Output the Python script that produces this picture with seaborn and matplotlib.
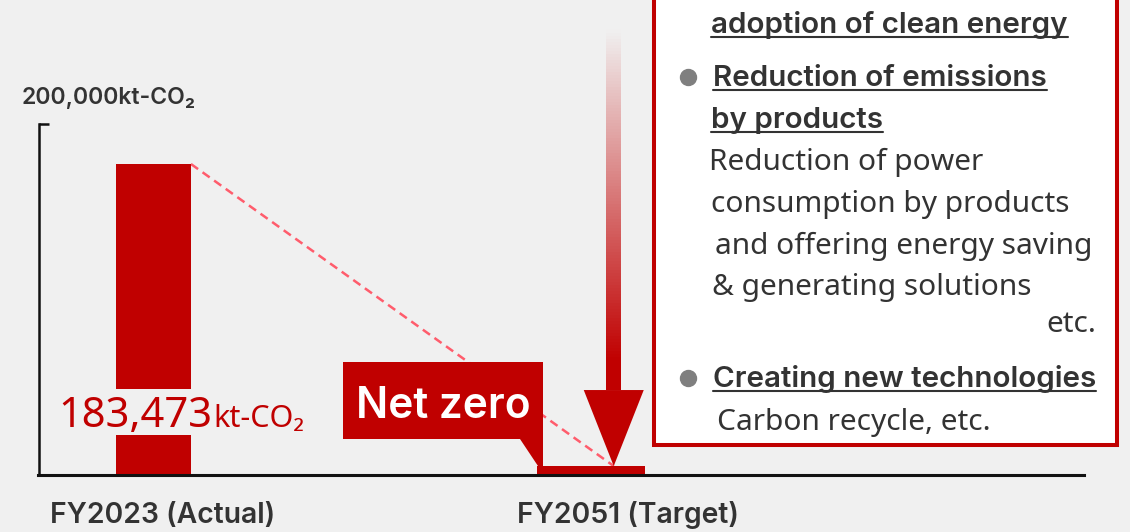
import matplotlib
matplotlib.use("Agg")
import matplotlib.pyplot as plt
import seaborn as sns
from matplotlib.patches import Polygon, Rectangle
from matplotlib.lines import Line2D
from matplotlib.transforms import IdentityTransform

# chart values
categories = ["FY2023 (Actual)", "FY2051 (Target)"]
emissions = [183473, 5000]  # FY2051 target is net zero, shown as a thin sliver
axis_label = "200,000kt-CO₂"
unit = "kt-CO₂"
target_label = "Net zero"
box_lines = [
    "adoption of clean energy",
    "Reduction of emissions",
    "by products",
    "Reduction of power",
    "consumption by products",
    "and offering energy saving",
    "& generating solutions",
    "etc.",
    "Creating new technologies",
    "Carbon recycle, etc.",
]

RED = "#c00000"
BG = "#f0f0f0"
INK = "#333333"
W, H = 1130, 532
ID = IdentityTransform()
REG = ["Noto Sans", "DejaVu Sans"]
BOLD = ["Inter", "DejaVu Sans"]


def pt(x, y):
    # pixel position measured from the top-left corner -> display coords
    return x, H - y


sns.set_theme(style="white")
plt.rcParams["font.family"] = REG

fig = plt.figure(figsize=(W / 100, H / 100), dpi=100, facecolor=BG)
ax = fig.add_axes([38.5 / W, (H - 474.5) / H, (1084 - 38.5) / W, (474.5 - 124) / H])
ax.set_facecolor("none")

sns.barplot(x=categories, y=emissions, color=RED, saturation=1, linewidth=0, ax=ax)
bar_widths = [0.171, 0.247]
for i, (patch, w) in enumerate(zip(ax.patches, bar_widths)):
    patch.set_width(w)
    patch.set_x(i - w / 2)

ymax = 207110
ax.set_xlim(-0.263, 2.127)
ax.set_ylim(0, ymax)
ax.set_xticks([])
ax.set_yticks([ymax])
ax.set_yticklabels([""])
ax.tick_params(axis="y", direction="in", length=7, width=1.8, color="#111111", left=True)
ax.set_xlabel("")
ax.set_ylabel("")
sns.despine(ax=ax)
ax.spines["left"].set_linewidth(1.8)
ax.spines["bottom"].set_linewidth(2.2)
for s in ("left", "bottom"):
    ax.spines[s].set_color("#111111")

# dashed trend line from the actual bar to the target
arrow_x = 1.052
ax.plot([bar_widths[0] / 2, arrow_x], [emissions[0], emissions[1]],
        ls=(0, (3.5, 2.2)), color="#ff5c6c", lw=1.8, zorder=0.5)

# red arrow pointing at the target
tx, ty = ax.transData.transform((arrow_x, emissions[1]))
head_h, head_hw, shaft_hw = 76, 30, 7.5
top = H - 30
fade_end = H - 360
n = 120
step = (top - (ty + head_h)) / n
bg_rgb = matplotlib.colors.to_rgb(BG)
red_rgb = matplotlib.colors.to_rgb(RED)
for k in range(n):
    y0 = ty + head_h + k * step
    f = min(max((top - (y0 + step / 2)) / (top - fade_end), 0), 1)
    c = [b * (1 - f) + r * f for b, r in zip(bg_rgb, red_rgb)]
    fig.add_artist(Rectangle((tx - shaft_hw, y0), 2 * shaft_hw, step + 0.6, fc=c, ec="none",
                             transform=ID, zorder=1))
fig.add_artist(Polygon([(tx - head_hw, ty + head_h), (tx + head_hw, ty + head_h), (tx, ty)],
                       closed=True, fc=RED, ec="none", transform=ID, zorder=1.1))

# "Net zero" callout
callout = [pt(343, 362), pt(543, 362), pt(543, 466), pt(538, 466), pt(520, 439), pt(343, 439)]
fig.add_artist(Polygon(callout, closed=True, fc=RED, ec="none", transform=ID, zorder=1.2))
fig.text(*pt(443, 418), target_label, color="white", fontsize=30.5, fontweight=600,
         family=BOLD, ha="center", va="baseline", transform=ID, zorder=4)

# measures box
fig.add_artist(Rectangle(pt(654, 445), 463, 455, fc="white", ec=RED, lw=2.9,
                         transform=ID, zorder=1))
layout = [
    (711, 33, True, "left"),
    (713, 86, True, "left"),
    (711, 128, True, "left"),
    (709, 170, False, "left"),
    (711, 212, False, "left"),
    (715, 254, False, "left"),
    (712, 295, False, "left"),
    (1096, 332, False, "right"),
    (713, 387, True, "left"),
    (717, 430, False, "left"),
]
underlined = []
for line, (x, base, strong, ha) in zip(box_lines, layout):
    if strong:
        t = fig.text(*pt(x, base), line, color=INK, fontsize=21.3, fontweight=600,
                     family=BOLD, ha=ha, va="baseline", transform=ID, zorder=4)
        underlined.append((t, base))
    else:
        fig.text(*pt(x, base), line, color=INK, fontsize=21.5,
                 ha=ha, va="baseline", transform=ID, zorder=4)
for by in (77, 378):
    fig.add_artist(Line2D([688], [H - by], marker="o", markersize=11.5, color="#7f7f7f",
                          transform=ID, zorder=4))

# labels
fig.text(*pt(22, 104), axis_label, color=INK, fontsize=16.6, fontweight=600, family=BOLD,
         ha="left", va="baseline", transform=ID)
for cat, x in zip(categories, (50, 517)):
    fig.text(*pt(x, 523), cat, color=INK, fontsize=20.4, fontweight=600, family=BOLD,
             ha="left", va="baseline", transform=ID)
# gap in the actual bar behind its value label
fig.add_artist(Rectangle(pt(100, 435), 110, 46, fc=BG, ec="none", transform=ID, zorder=1.5))
fig.text(*pt(212, 427), f"{emissions[0]:,}", color=RED, fontsize=30, ha="right",
         va="baseline", transform=ID, zorder=3)
fig.text(*pt(213, 427), unit, color=RED, fontsize=22, ha="left", va="baseline",
         transform=ID, zorder=3)

fig.canvas.draw()
for t, base in underlined:
    bb = t.get_window_extent()
    fig.add_artist(Line2D([bb.x0, bb.x1], [H - base - 4] * 2, lw=1.5, color=INK,
                          transform=ID, zorder=4))

fig.savefig("out.png", dpi=100, facecolor=BG)
